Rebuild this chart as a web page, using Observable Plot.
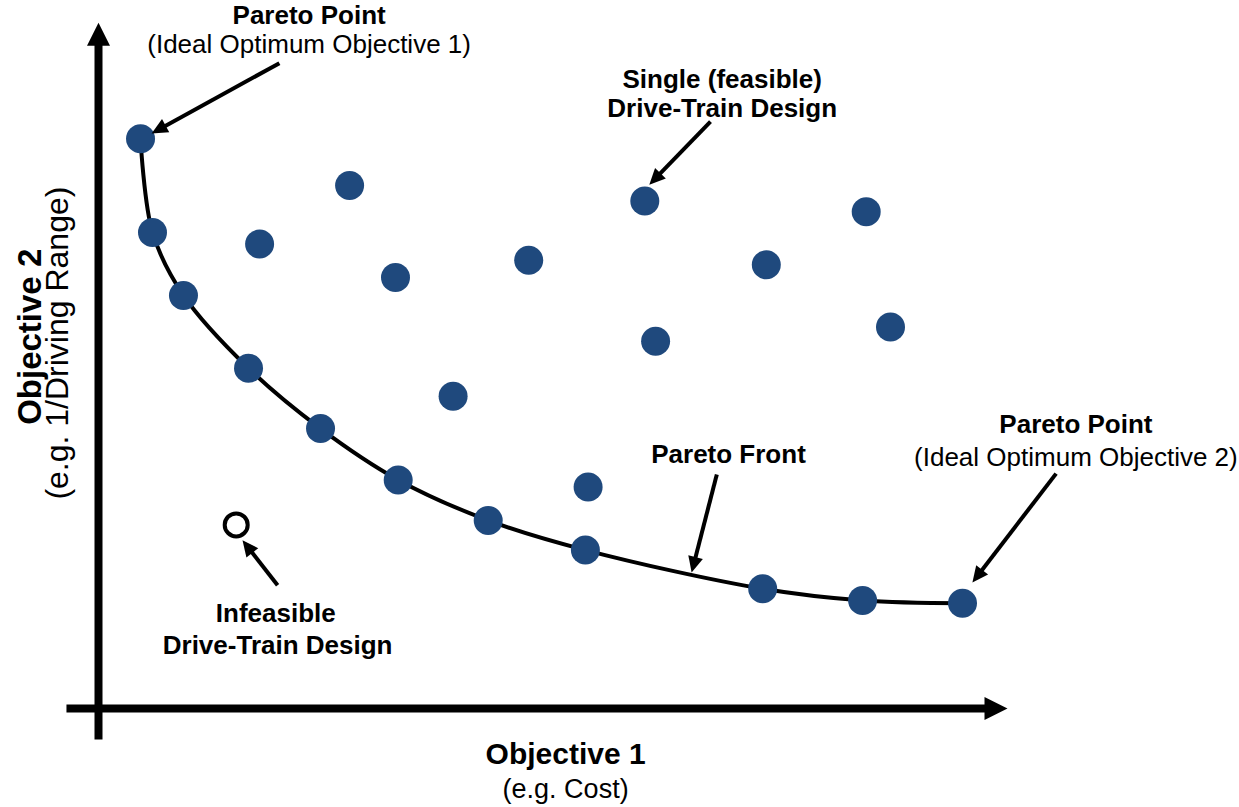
<!DOCTYPE html>
<html>
<head>
<meta charset="utf-8">
<script src="https://cdn.jsdelivr.net/npm/d3@7"></script>
<script src="https://cdn.jsdelivr.net/npm/@observablehq/plot@0.6"></script>
<style>
  html, body { margin: 0; padding: 0; background: #fff; }
  #chart svg { display: block; }
</style>
</head>
<body>
<div id="chart"></div>
<script>
// ---- Data (Objective 1 = cost, Objective 2 = 1/driving range; arbitrary units) ----
const frontCost   = [4.67, 6.0, 9.44, 16.67, 24.67, 33.3, 43.3, 54.1, 73.8, 84.9, 96.0];
const frontRange  = [63.3, 52.9, 45.9, 37.8, 31.1, 25.4, 20.9, 17.6, 13.3, 12.0, 11.7];
const designCost  = [27.9, 17.9, 33.0, 47.8, 60.7, 74.2, 85.3, 88.0, 61.9, 39.4, 54.4];
const designRange = [58.1, 51.6, 47.9, 49.8, 56.4, 49.3, 55.2, 42.4, 40.8, 34.7, 24.6];
const infeasibleCost  = [15.3];
const infeasibleRange = [20.4];

// Annotation callouts (tail -> tip)
const calloutText = ["Pareto Point 1", "Single design", "Pareto Front", "Pareto Point 2", "Infeasible"];
const calloutX1 = [20.1, 68.0, 68.7, 106.4, 19.9];
const calloutY1 = [71.7, 65.2, 26.0, 26.1, 13.7];
const calloutX2 = [5.9, 61.2, 65.9, 97.1, 16.0];
const calloutY2 = [63.9, 58.2, 15.1, 14.0, 18.7];

// Axis arrows
const axisX1 = [0, -3.56];
const axisY1 = [-3.44, 0];
const axisX2 = [0, 101.0];
const axisY2 = [76.2, 0];

// Text labels
const labelText = ["Pareto Point", "(Ideal Optimum Objective 1)", "Single (feasible)", "Drive-Train Design",
  "Pareto Front", "Pareto Point", "(Ideal Optimum Objective 2)", "Infeasible", "Drive-Train Design"];
const labelBold = [true, false, true, true, true, true, false, true, true];
const labelX = [23.4, 23.4, 69.3, 69.3, 70.0, 108.6, 108.6, 19.7, 19.9];
const labelY = [76.1, 72.8, 68.9, 65.7, 27.3, 30.6, 27.0, 9.6, 6.1];

const xTitle = ["Objective 1", "(e.g. Cost)"];
const xTitleX = [51.9, 51.9];
const xTitleY = [-6.2, -9.9];
const yTitle = ["Objective 2", "(e.g. 1/Driving Range)"];
const yTitleX = [-6.4, -3.35];
const yTitleY = [41.3, 40.6];

// ---- Build tables ----
const front = frontCost.map((x, i) => ({x, y: frontRange[i]}));
const designs = designCost.map((x, i) => ({x, y: designRange[i]}));
const infeasible = infeasibleCost.map((x, i) => ({x, y: infeasibleRange[i]}));
const callouts = calloutText.map((t, i) => ({t, x1: calloutX1[i], y1: calloutY1[i], x2: calloutX2[i], y2: calloutY2[i]}));
const axes = axisX1.map((x1, i) => ({x1, y1: axisY1[i], x2: axisX2[i], y2: axisY2[i]}));
const labels = labelText.map((text, i) => ({text, bold: labelBold[i], x: labelX[i], y: labelY[i]}));
const xTitles = xTitle.map((text, i) => ({text, i, x: xTitleX[i], y: xTitleY[i]}));
const yTitles = yTitle.map((text, i) => ({text, i, x: yTitleX[i], y: yTitleY[i]}));

const bearing = d => Math.atan2(d.x2 - d.x1, d.y2 - d.y1) * 180 / Math.PI;
const axisHead = {draw(c) { c.moveTo(0, 0); c.lineTo(11.5, 23); c.lineTo(-11.5, 23); c.closePath(); }};
const calloutHead = {draw(c) { c.moveTo(0, 0); c.lineTo(7.5, 16); c.lineTo(-7.5, 16); c.closePath(); }};

const FONT = "Liberation Sans, Arial, Helvetica, sans-serif";
const BLUE = "#1F497D";

const chart = Plot.plot({
  width: 1239,
  height: 807,
  margin: 0,
  x: {domain: [0, 100], range: [98, 998], axis: null},
  y: {domain: [0, 70], range: [708, 78], axis: null},
  style: {background: "white", fontFamily: FONT, color: "black"},
  marks: [
    // axes
    Plot.arrow(axes, {x1: "x1", y1: "y1", x2: "x2", y2: "y2", stroke: "black", strokeWidth: 8,
      headLength: 0, insetEnd: 20, strokeLinecap: "butt"}),
    Plot.dot(axes, {x: "x2", y: "y2", symbol: axisHead, rotate: bearing, fill: "black", stroke: "none"}),
    // pareto front curve
    Plot.line(front, {x: "x", y: "y", curve: "catmull-rom", stroke: "black", strokeWidth: 4}),
    // callout arrows
    Plot.arrow(callouts, {x1: "x1", y1: "y1", x2: "x2", y2: "y2", stroke: "black", strokeWidth: 4,
      headLength: 0, insetEnd: 13, strokeLinecap: "butt"}),
    // designs
    Plot.dot(front, {x: "x", y: "y", r: 14.5, fill: BLUE}),
    Plot.dot(designs, {x: "x", y: "y", r: 14.5, fill: BLUE}),
    Plot.dot(infeasible, {x: "x", y: "y", r: 11.5, fill: "white", stroke: "black", strokeWidth: 4}),
    Plot.dot(callouts, {x: "x2", y: "y2", symbol: calloutHead, rotate: bearing, fill: "black", stroke: "none"}),
    // labels
    Plot.text(labels.filter(d => d.bold), {x: "x", y: "y", text: "text", fontSize: 26, fontWeight: "bold",
      fontFamily: FONT, textAnchor: "middle", lineAnchor: "bottom", fill: "black"}),
    Plot.text(labels.filter(d => !d.bold), {x: "x", y: "y", text: "text", fontSize: 26,
      fontFamily: FONT, textAnchor: "middle", lineAnchor: "bottom", fill: "black"}),
    Plot.text(xTitles.filter(d => d.i === 0), {x: "x", y: "y", text: "text", fontSize: 30, fontWeight: "bold",
      fontFamily: FONT, textAnchor: "middle", lineAnchor: "bottom", fill: "black"}),
    Plot.text(xTitles.filter(d => d.i === 1), {x: "x", y: "y", text: "text", fontSize: 27,
      fontFamily: FONT, textAnchor: "middle", lineAnchor: "bottom", fill: "black"}),
    Plot.text(yTitles.filter(d => d.i === 0), {x: "x", y: "y", text: "text", fontSize: 33, fontWeight: "bold",
      fontFamily: FONT, textAnchor: "middle", lineAnchor: "bottom", rotate: -90, fill: "black"}),
    Plot.text(yTitles.filter(d => d.i === 1), {x: "x", y: "y", text: "text", fontSize: 32,
      fontFamily: FONT, textAnchor: "middle", lineAnchor: "bottom", rotate: -90, fill: "black"})
  ]
});
document.getElementById("chart").appendChild(chart);
</script>
</body>
</html>
